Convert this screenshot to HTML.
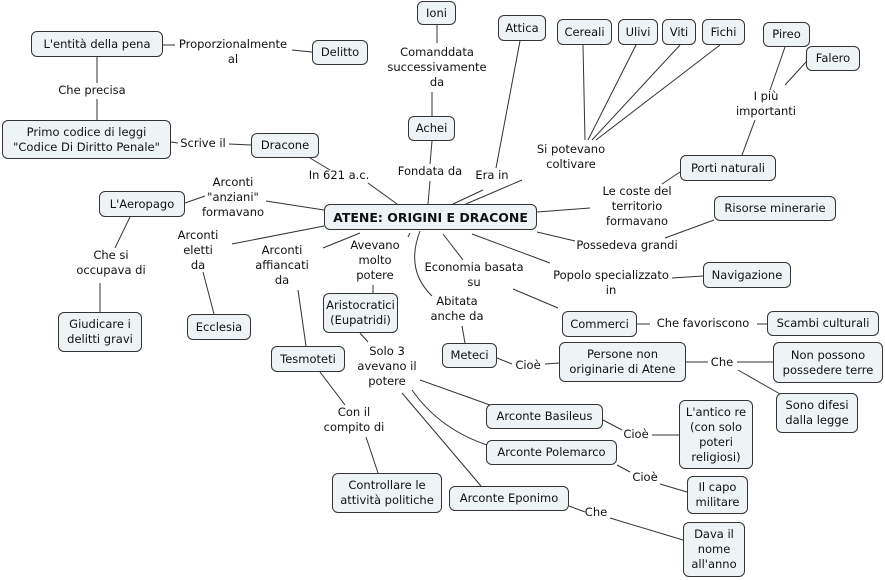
<!DOCTYPE html>
<html><head><meta charset="utf-8"><style>
body{margin:0;width:885px;height:580px;background:#fff;position:relative;overflow:hidden;font-family:"DejaVu Sans","Liberation Sans",sans-serif;font-size:11.5px;color:#111}
.n{position:absolute;box-sizing:border-box;background:#eef3f6;border:1px solid #333;border-radius:6px;display:flex;align-items:center;justify-content:center;text-align:center;line-height:15px}
.l{position:absolute;text-align:center;line-height:15px;white-space:nowrap;transform:translateX(-50%)}
svg{position:absolute;left:0;top:0}
</style></head><body>
<svg width="885" height="580" fill="none" stroke="#333" stroke-width="1">
<path d="M163 45L175 45M292 50L312 52M97 57L97 83M97 99L97 120M171 142L178 143M229 144L251 145"/>
<path d="M310 158L330 170M368 183L397 204M437 25L437 43M432 92L432 116M432 141L430 164M430 181L428 204"/>
<path d="M520 41L496 168M483 190L453 204M583 45L585 140M636 45L588 140M680 45L592 140M720 45L596 140M522 180L466 204"/>
<path d="M785 47L770 90M806 62L785 85M755 120L742 155M680 172L662 184M590 208L537 212"/>
<path d="M714 220L665 238M575 241L537 232M703 276L672 278M550 263L472 234M443 234L463 260M513 289L558 308"/>
<path d="M420 231Q405 270 432 296M462 326L465 343M410 233L408 237M373 285L373 293"/>
<path d="M360 233L323 248M298 290L306 346M324 226L232 244M203 272L214 314M185 203L205 196M266 201L324 210"/>
<path d="M130 217L115 248M100 283L100 312M637 324L650 324M757 324L767 324M497 358L512 364M545 364L559 363"/>
<path d="M686 362L708 362M737 362L773 362M738 370L780 394M360 333L368 342"/>
<path d="M420 380L490 405M412 390Q440 430 490 446M402 393L481 486M320 372L345 405M366 437L378 473"/>
<path d="M603 420L622 430M652 435L679 435M617 465L630 472M660 484L687 492M569 506L585 512M610 518L683 540"/>
</svg>
<div class="n" style="left:417px;top:1px;width:39px;height:24px">Ioni</div>
<div class="n" style="left:498px;top:15px;width:48px;height:26px">Attica</div>
<div class="n" style="left:557px;top:19px;width:55px;height:26px">Cereali</div>
<div class="n" style="left:618px;top:19px;width:40px;height:26px">Ulivi</div>
<div class="n" style="left:662px;top:19px;width:34px;height:26px">Viti</div>
<div class="n" style="left:702px;top:19px;width:43px;height:26px">Fichi</div>
<div class="n" style="left:763px;top:22px;width:47px;height:25px">Pireo</div>
<div class="n" style="left:806px;top:46px;width:54px;height:25px">Falero</div>
<div class="n" style="left:31px;top:31px;width:132px;height:26px">L'entità della pena</div>
<div class="n" style="left:312px;top:40px;width:56px;height:25px">Delitto</div>
<div class="n" style="left:408px;top:116px;width:47px;height:25px">Achei</div>
<div class="n" style="left:2px;top:120px;width:169px;height:39px">Primo codice di leggi<br>"Codice Di Diritto Penale"</div>
<div class="n" style="left:251px;top:133px;width:68px;height:25px">Dracone</div>
<div class="n" style="left:680px;top:155px;width:96px;height:26px">Porti naturali</div>
<div class="n" style="left:99px;top:191px;width:86px;height:26px">L'Aeropago</div>
<div class="n" style="left:324px;top:204px;width:213px;height:26px;font-weight:bold;font-size:12.5px">ATENE: ORIGINI E DRACONE</div>
<div class="n" style="left:714px;top:196px;width:122px;height:25px">Risorse minerarie</div>
<div class="n" style="left:703px;top:262px;width:88px;height:26px">Navigazione</div>
<div class="n" style="left:323px;top:293px;width:75px;height:40px">Aristocratici<br>(Eupatridi)</div>
<div class="n" style="left:187px;top:314px;width:64px;height:26px">Ecclesia</div>
<div class="n" style="left:58px;top:312px;width:84px;height:40px">Giudicare i<br>delitti gravi</div>
<div class="n" style="left:562px;top:311px;width:75px;height:26px">Commerci</div>
<div class="n" style="left:767px;top:311px;width:112px;height:25px">Scambi culturali</div>
<div class="n" style="left:442px;top:343px;width:55px;height:25px">Meteci</div>
<div class="n" style="left:559px;top:342px;width:127px;height:40px">Persone non<br>originarie di Atene</div>
<div class="n" style="left:773px;top:342px;width:110px;height:41px">Non possono<br>possedere terre</div>
<div class="n" style="left:271px;top:346px;width:74px;height:26px">Tesmoteti</div>
<div class="n" style="left:776px;top:393px;width:82px;height:40px">Sono difesi<br>dalla legge</div>
<div class="n" style="left:486px;top:404px;width:117px;height:25px">Arconte Basileus</div>
<div class="n" style="left:679px;top:400px;width:74px;height:69px">L'antico re<br>(con solo<br>poteri<br>religiosi)</div>
<div class="n" style="left:486px;top:440px;width:131px;height:25px">Arconte Polemarco</div>
<div class="n" style="left:687px;top:476px;width:61px;height:38px">Il capo<br>militare</div>
<div class="n" style="left:332px;top:473px;width:110px;height:40px">Controllare le<br>attività politiche</div>
<div class="n" style="left:449px;top:486px;width:120px;height:25px">Arconte Eponimo</div>
<div class="n" style="left:683px;top:522px;width:62px;height:55px">Dava il<br>nome<br>all'anno</div>
<div class="l" style="left:233px;top:37px">Proporzionalmente<br>al</div>
<div class="l" style="left:437px;top:45px">Comanddata<br>successivamente<br>da</div>
<div class="l" style="left:92px;top:83px">Che precisa</div>
<div class="l" style="left:766px;top:89px">I più<br>importanti</div>
<div class="l" style="left:571px;top:142px">Si potevano<br>coltivare</div>
<div class="l" style="left:203px;top:136px">Scrive il</div>
<div class="l" style="left:430px;top:164px">Fondata da</div>
<div class="l" style="left:339px;top:168px">In 621 a.c.</div>
<div class="l" style="left:492px;top:168px">Era in</div>
<div class="l" style="left:233px;top:175px">Arconti<br>"anziani"<br>formavano</div>
<div class="l" style="left:637px;top:184px">Le coste del<br>territorio<br>formavano</div>
<div class="l" style="left:627px;top:238px">Possedeva grandi</div>
<div class="l" style="left:198px;top:228px">Arconti<br>eletti<br>da</div>
<div class="l" style="left:282px;top:243px">Arconti<br>affiancati<br>da</div>
<div class="l" style="left:375px;top:238px">Avevano<br>molto<br>potere</div>
<div class="l" style="left:474px;top:260px">Economia basata<br>su</div>
<div class="l" style="left:611px;top:268px">Popolo specializzato<br>in</div>
<div class="l" style="left:111px;top:248px">Che si<br>occupava di</div>
<div class="l" style="left:457px;top:294px">Abitata<br>anche da</div>
<div class="l" style="left:703px;top:316px">Che favoriscono</div>
<div class="l" style="left:528px;top:358px">Cioè</div>
<div class="l" style="left:722px;top:355px">Che</div>
<div class="l" style="left:387px;top:344px">Solo 3<br>avevano il<br>potere</div>
<div class="l" style="left:354px;top:405px">Con il<br>compito di</div>
<div class="l" style="left:636px;top:427px">Cioè</div>
<div class="l" style="left:645px;top:470px">Cioè</div>
<div class="l" style="left:596px;top:505px">Che</div>
</body></html>
